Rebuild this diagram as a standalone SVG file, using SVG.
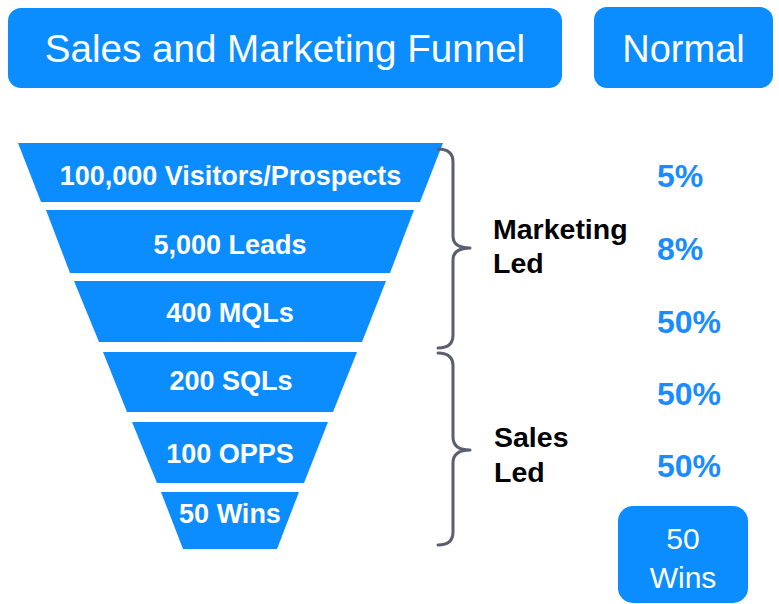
<svg xmlns="http://www.w3.org/2000/svg" width="779" height="604" viewBox="0 0 779 604">
<style>
.box{fill:#0b8cff}
.stage{fill:#0b8cff}
.hdr{font-family:"Liberation Sans",Arial,sans-serif;font-size:38px;fill:#fff;text-anchor:middle}
.st{font-family:"Liberation Sans",Arial,sans-serif;font-size:27px;font-weight:bold;fill:#fff;text-anchor:middle}
.lbl{font-family:"Liberation Sans",Arial,sans-serif;font-size:28.5px;font-weight:bold;fill:#000}
.pct{font-family:"Liberation Sans",Arial,sans-serif;font-size:32px;font-weight:bold;fill:#1a8cff}
.brace{fill:none;stroke:#5b5e70;stroke-width:3;stroke-linecap:round;stroke-linejoin:round}
</style>
<rect width="779" height="604" fill="#fff"/>
<g id="title">
<rect class="box" x="8" y="8" width="554" height="80" rx="13"/>
<text class="hdr" x="285" y="62" style="font-size:38.6px">Sales and Marketing Funnel</text>
</g>
<g id="normal">
<rect class="box" x="594" y="7" width="179" height="81" rx="13"/>
<text class="hdr" x="683.5" y="62">Normal</text>
</g>
<g id="stage1">
<polygon class="stage" points="18,143 443,143 420,202 41,202"/>
<text class="st" x="230.5" y="185">100,000 Visitors/Prospects</text>
</g>
<g id="stage2">
<polygon class="stage" points="46,210 414,210 390,273 70,273"/>
<text class="st" x="230" y="254">5,000 Leads</text>
</g>
<g id="stage3">
<polygon class="stage" points="74,281 386,281 362,342 99,342"/>
<text class="st" x="230" y="322">400 MQLs</text>
</g>
<g id="stage4">
<polygon class="stage" points="103,352 357,352 333,412 127,412"/>
<text class="st" x="231" y="390">200 SQLs</text>
</g>
<g id="stage5">
<polygon class="stage" points="132,422 328,422 304,483 157,483"/>
<text class="st" x="230" y="463">100 OPPS</text>
</g>
<g id="stage6">
<polygon class="stage" points="161,492 299,492 277,549 183,549"/>
<text class="st" x="230" y="523">50 Wins</text>
</g>
<g id="connectors">
<path class="brace" d="M438,149 Q453,149 453,162 L453,236 Q453,248 470,248 Q453,248 453,260 L453,335 Q453,348 438,348"/>
<path class="brace" d="M438,353 Q453,353 453,366 L453,437 Q453,450 470,450 Q453,450 453,463 L453,532 Q453,545 438,545"/>
</g>
<g id="marketing-led">
<text class="lbl" x="493" y="239">Marketing</text>
<text class="lbl" x="493" y="273">Led</text>
</g>
<g id="sales-led">
<text class="lbl" x="494" y="447">Sales</text>
<text class="lbl" x="494" y="482">Led</text>
</g>
<g id="rates">
<text class="pct" x="657" y="187">5%</text>
<text class="pct" x="657" y="260">8%</text>
<text class="pct" x="657" y="333">50%</text>
<text class="pct" x="657" y="405">50%</text>
<text class="pct" x="657" y="477">50%</text>
</g>
<g id="wins-box">
<rect class="box" x="618" y="506" width="130" height="97" rx="15"/>
<text class="hdr" x="683" y="549" style="font-size:30px">50</text>
<text class="hdr" x="683" y="588" style="font-size:30px">Wins</text>
</g>
</svg>
